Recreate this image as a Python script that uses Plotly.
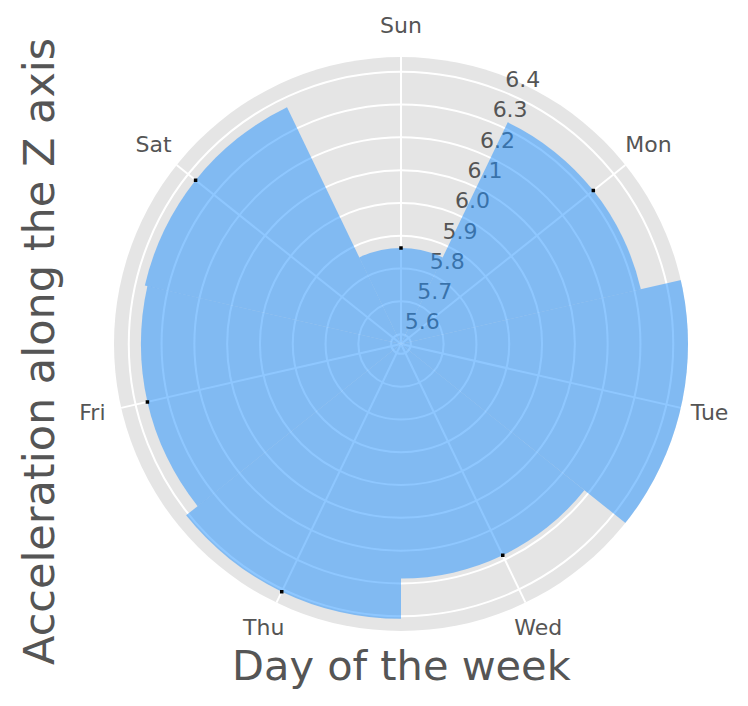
import plotly.graph_objects as go

days = ["Sun", "Mon", "Tue", "Wed", "Thu", "Fri", "Sat"]
accel_z = [5.863, 6.320, 6.46, 6.285, 6.408, 6.363, 6.371]
radial_ticks = [5.6, 5.7, 5.8, 5.9, 6.0, 6.1, 6.2, 6.3, 6.4]
radial_range = [5.57, 6.445]
radial_label_theta = 22.5      # matplotlib's default rlabel position
day_label_r = 6.535            # where the day names sit, just outside the circle

step = 360.0 / len(days)
theta = [i * step for i in range(len(days))]
tick_text = ["%.1f" % v for v in radial_ticks]

font_main = "DejaVu Sans"
text_col = "#555555"

# layout geometry (pixels)
W, H = 748, 706
cx, cy, R = 401, 344, 287          # polar centre and radius
R_lab = 330                        # radius of the (invisible) label subplot
px_per_unit = R / (radial_range[1] - radial_range[0])
label_range = [radial_range[0], radial_range[0] + R_lab / px_per_unit]


def dom(rad):
    return dict(x=[(cx - rad) / W, (cx + rad) / W],
                y=[1 - (cy + rad) / H, 1 - (cy - rad) / H])


fig = go.Figure()
# bottom subplot: radial tick labels (drawn under the translucent bars)
fig.add_trace(go.Scatterpolar(
    r=radial_ticks, theta=[radial_label_theta] * len(radial_ticks),
    mode="text", text=tick_text, textposition="top right",
    textfont=dict(size=22, color=text_col, family=font_main),
    cliponaxis=False, showlegend=False, hoverinfo="skip", subplot="polar",
))
# top subplot: bars and the small black markers at their tips
fig.add_trace(go.Barpolar(
    r=accel_z, theta=theta, width=[step] * len(days),
    marker=dict(color="rgba(30,144,255,0.5)", line=dict(width=0)),
    showlegend=False, hoverinfo="skip", subplot="polar2",
))
fig.add_trace(go.Scatterpolar(
    r=accel_z, theta=theta, mode="markers",
    marker=dict(color="black", size=3.5, symbol="square"),
    showlegend=False, hoverinfo="skip", cliponaxis=True, subplot="polar2",
))
# label subplot: day names around the circle
fig.add_trace(go.Scatterpolar(
    r=[day_label_r] * len(days), theta=theta,
    mode="text", text=days, textposition="middle center",
    textfont=dict(size=22, color=text_col, family=font_main),
    cliponaxis=False, showlegend=False, hoverinfo="skip", subplot="polar3",
))

common_ang = dict(rotation=90, direction="clockwise", tickmode="array",
                  tickvals=theta, ticktext=days, showline=False, ticks="",
                  showticklabels=False)
common_rad = dict(tickmode="array", tickvals=radial_ticks,
                  showline=False, ticks="", showticklabels=False)

fig.update_layout(
    width=W, height=H,
    margin=dict(l=0, r=0, t=0, b=0),
    paper_bgcolor="white",
    font=dict(family=font_main, color=text_col),
    polar=dict(
        domain=dom(R), bgcolor="#E5E5E5",
        angularaxis=dict(**common_ang, gridcolor="white", gridwidth=2, showgrid=True),
        radialaxis=dict(**common_rad, range=radial_range,
                        gridcolor="white", gridwidth=2, showgrid=True),
    ),
    polar2=dict(
        domain=dom(R), bgcolor="rgba(0,0,0,0)",
        angularaxis=dict(**common_ang, showgrid=False),
        radialaxis=dict(**common_rad, range=radial_range, showgrid=False),
    ),
    polar3=dict(
        domain=dom(R_lab), bgcolor="rgba(0,0,0,0)",
        angularaxis=dict(**common_ang, showgrid=False),
        radialaxis=dict(**common_rad, range=label_range, showgrid=False),
    ),
    annotations=[
        dict(text="Day of the week", x=401.7 / W, y=1 - 665 / H,
             xref="paper", yref="paper", xanchor="center", yanchor="middle",
             showarrow=False, font=dict(size=41.5, color=text_col, family=font_main)),
        dict(text="Acceleration along the Z axis", x=39 / W, y=1 - 352 / H,
             xref="paper", yref="paper", xanchor="center", yanchor="middle",
             textangle=-90, showarrow=False,
             font=dict(size=43, color=text_col, family=font_main)),
    ],
)

fig.write_html("out.html", config={"displayModeBar": False},
               post_script="document.body.style.margin='0px';")
